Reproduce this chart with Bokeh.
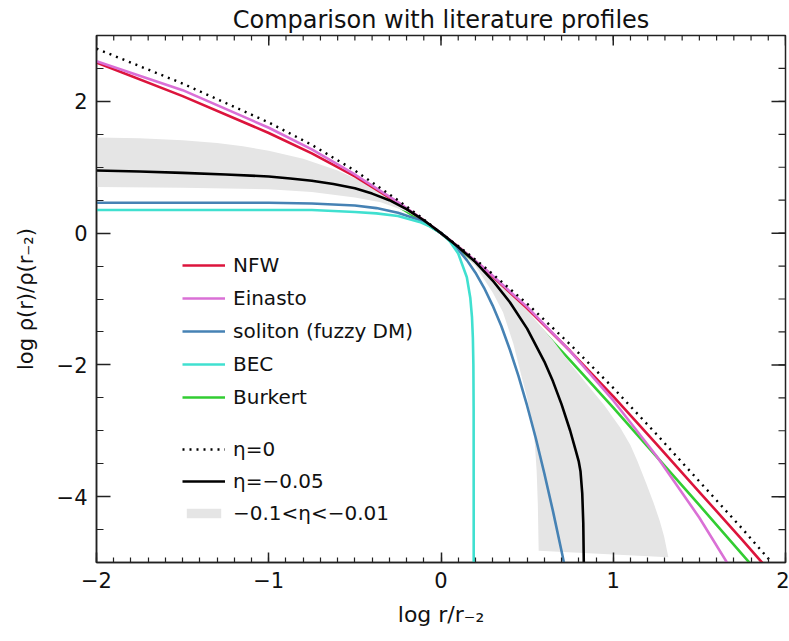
import math
from bokeh.plotting import figure
from bokeh.models import FixedTicker, Range1d, Legend, LegendItem
from bokeh.embed import file_html
from bokeh.resources import INLINE

# ---------------- data ----------------
# log r / r_-2 sample points and log rho/rho(r_-2) values
nfw_x = [-2, -1.5, -1, -0.75, -0.5, -0.25, -0.125, 0, 0.125, 0.25, 0.5, 0.75, 1, 1.25, 1.5, 1.75, 1.9]
nfw_y = [2.59, 2.08, 1.52, 1.21, 0.86, 0.46, 0.24, 0.0, -0.26, -0.54, -1.14, -1.79, -2.48, -3.20, -3.93, -4.66, -5.11]

einasto_x = [-2, -1.5, -1, -0.75, -0.5, -0.25, -0.125, 0, 0.125, 0.25, 0.5, 0.75, 1, 1.25, 1.5, 1.75]
einasto_y = [2.61, 2.17, 1.60, 1.27, 0.89, 0.47, 0.24, 0.0, -0.26, -0.53, -1.12, -1.79, -2.54, -3.38, -4.32, -5.38]

soliton_x = [-2, -1.5, -1, -0.75, -0.5, -0.375, -0.25, -0.125, -0.0625, 0, 0.025, 0.05, 0.1, 0.15,
             0.2, 0.25, 0.3, 0.35, 0.4, 0.45, 0.5, 0.55, 0.6, 0.65, 0.7, 0.73]
soliton_y = [0.46, 0.46, 0.46, 0.45, 0.42, 0.38, 0.31, 0.20, 0.11, 0.0, -0.05, -0.11, -0.25, -0.41,
             -0.60, -0.83, -1.10, -1.41, -1.77, -2.17, -2.62, -3.11, -3.65, -4.22, -4.83, -5.21]

bec_x = [-2, -1.5, -1, -0.75, -0.5, -0.375, -0.25, -0.125, -0.0625, 0, 0.025, 0.05, 0.1, 0.15,
         0.17, 0.18, 0.185, 0.188, 0.1895, 0.19]
bec_y = [0.35, 0.35, 0.35, 0.35, 0.32, 0.30, 0.26, 0.17, 0.10, 0.0, -0.06, -0.12, -0.31, -0.67,
         -0.98, -1.28, -1.59, -2.00, -2.68, -5.30]

burkert_x = [-2, -1.5, -1, -0.75, -0.5, -0.25, 0, 0.25, 0.5, 0.75, 1, 1.25, 1.5, 1.75, 1.85]
burkert_y = [0.91, 0.90, 0.85, 0.79, 0.66, 0.41, 0.0, -0.57, -1.23, -1.93, -2.65, -3.39, -4.13, -4.88, -5.18]

eta0_x = [-2, -1.5, -1, -0.75, -0.5, -0.25, -0.125, 0, 0.125, 0.25, 0.5, 0.75, 1, 1.25, 1.5, 1.75, 1.95]
eta0_y = [2.80, 2.27, 1.68, 1.34, 0.95, 0.50, 0.26, 0.0, -0.245, -0.51, -1.07, -1.69, -2.35, -3.05, -3.77, -4.49, -5.09]

eta005_x = [-2, -1.75, -1.5, -1.25, -1, -0.875, -0.75, -0.625, -0.5, -0.4, -0.3, -0.2, -0.1, 0,
            0.1, 0.2, 0.3, 0.4, 0.5, 0.6, 0.65, 0.7, 0.75, 0.78, 0.8, 0.81, 0.82, 0.826, 0.83]
eta005_y = [0.95, 0.935, 0.915, 0.89, 0.86, 0.83, 0.795, 0.745, 0.68, 0.60, 0.50, 0.365, 0.195, 0.0,
            -0.21, -0.44, -0.72, -1.05, -1.45, -1.95, -2.25, -2.60, -3.00, -3.28, -3.47, -3.62, -3.95, -4.40, -5.20]

# band edges: eta = -0.01 (outer) and eta = -0.1 (inner)
band_hi_x = [-2, -1.75, -1.5, -1.3, -1.15, -1, -0.8, -0.6, -0.43, -0.3, -0.15, 0, 0.15, 0.3, 0.5, 0.65,
             0.75, 0.85, 0.95, 1.04, 1.1, 1.14, 1.19, 1.235, 1.27, 1.295, 1.32]
band_hi_y = [1.45, 1.44, 1.41, 1.37, 1.32, 1.25, 1.13, 0.95, 0.75, 0.54, 0.28, 0.0, -0.32, -0.66, -1.17, -1.63,
             -1.98, -2.30, -2.62, -2.95, -3.22, -3.46, -3.79, -4.10, -4.37, -4.60, -4.92]
band_lo_x = [-2, -1.5, -1, -0.75, -0.5, -0.35, -0.2, -0.1, 0, 0.1, 0.2, 0.3, 0.36, 0.42, 0.47, 0.5,
             0.53, 0.545, 0.555, 0.562, 0.567]
band_lo_y = [0.70, 0.69, 0.665, 0.625, 0.54, 0.47, 0.33, 0.18, 0.0, -0.22, -0.50, -0.90, -1.20, -1.68, -2.20, -2.50,
             -2.90, -3.20, -3.60, -4.10, -4.82]

x_major = [-2, -1, 0, 1, 2]
x_labels = {-2: "\u22122", -1: "\u22121", 0: "0", 1: "1", 2: "2"}
y_major = [-4, -2, 0, 2]
y_labels = {-4: "\u22124", -2: "\u22122", 0: "0", 2: "2"}
x_minor = [round(-2 + 0.1 * i, 2) for i in range(41)]
y_minor = [round(-5 + 0.5 * i, 2) for i in range(17)]

X_LO, X_HI, Y_LO, Y_HI = -2, 2, -5, 3
FONT = "DejaVu Sans"
AX = "#222222"

p = figure(width=789, height=641, x_range=Range1d(X_LO, X_HI), y_range=Range1d(Y_LO, Y_HI),
           output_backend="svg", toolbar_location=None,
           min_border_left=96, min_border_right=4, min_border_top=35, min_border_bottom=79)
p.xgrid.visible = False
p.ygrid.visible = False
p.outline_line_color = AX
p.outline_line_width = 1.5
p.background_fill_color = "white"
p.border_fill_color = "white"

p.title.text = "Comparison with literature profiles"
p.title.align = "center"
p.title.text_font = FONT
p.title.text_font_size = "24px"
p.title.text_font_style = "normal"
p.title.text_color = "#111111"
p.title.standoff = 3

xt = FixedTicker(ticks=x_major, minor_ticks=x_minor)
yt = FixedTicker(ticks=y_major, minor_ticks=y_minor)


def style(ax, major_in, minor_in):
    ax.major_tick_in = major_in
    ax.major_tick_out = 0
    ax.minor_tick_in = minor_in
    ax.minor_tick_out = 0
    ax.axis_line_color = AX
    ax.axis_line_width = 1.5
    ax.major_tick_line_color = AX
    ax.major_tick_line_width = 1.5
    ax.minor_tick_line_color = AX
    ax.minor_tick_line_width = 1.2


bx = p.xaxis[0]
bx.ticker = xt
style(bx, 10, 5)
bx.major_label_overrides = x_labels
bx.major_label_text_font = FONT
bx.major_label_text_font_size = "21px"
bx.major_label_text_color = "#111111"
bx.major_label_standoff = 9
bx.axis_label = "log r/r\u208b\u2082"
bx.axis_label_text_font = FONT
bx.axis_label_text_font_size = "22px"
bx.axis_label_text_font_style = "normal"
bx.axis_label_text_color = "#111111"
bx.axis_label_standoff = 11

ly = p.yaxis[0]
ly.ticker = yt
style(ly, 14, 7)
ly.major_label_overrides = y_labels
ly.major_label_text_font = FONT
ly.major_label_text_font_size = "21px"
ly.major_label_text_color = "#111111"
ly.major_label_standoff = 9
ly.axis_label = "log \u03c1(r)/\u03c1(r\u208b\u2082)"
ly.axis_label_text_font = FONT
ly.axis_label_text_font_size = "21px"
ly.axis_label_text_font_style = "normal"
ly.axis_label_text_color = "#111111"
ly.axis_label_standoff = 16

# inward ticks on the top and right frame edges (dash markers half clipped by the frame)
p.scatter(x_major, [Y_HI] * len(x_major), marker="dash", angle=math.pi / 2, size=20,
          line_color=AX, line_width=1.5)
p.scatter(x_minor, [Y_HI] * len(x_minor), marker="dash", angle=math.pi / 2, size=10,
          line_color=AX, line_width=1.2)
p.scatter([X_HI] * len(y_major), y_major, marker="dash", size=28, line_color=AX, line_width=1.5)
p.scatter([X_HI] * len(y_minor), y_minor, marker="dash", size=14, line_color=AX, line_width=1.2)

# draw order: Burkert under the band, everything else on top
r_bur = p.line(burkert_x, burkert_y, line_color="#32cd32", line_width=2.6)
r_band = p.patch(band_hi_x + band_lo_x[::-1], band_hi_y + band_lo_y[::-1],
                 fill_color="#e5e5e5", line_color=None)
r_nfw = p.line(nfw_x, nfw_y, line_color="#dc143c", line_width=2.6)
r_ein = p.line(einasto_x, einasto_y, line_color="#da70d6", line_width=2.6)
r_sol = p.line(soliton_x, soliton_y, line_color="#4682b4", line_width=2.6)
r_bec = p.line(bec_x, bec_y, line_color="#40e0d0", line_width=2.6)
r_e05 = p.line(eta005_x, eta005_y, line_color="black", line_width=2.6)
r_e0 = p.line(eta0_x, eta0_y, line_color="black", line_width=2.4, line_dash="2 5")

common = dict(glyph_width=43, glyph_height=12, label_height=24, label_standoff=8,
              padding=0, margin=0, border_line_alpha=0, background_fill_alpha=0,
              label_text_font=FONT, label_text_font_size="20px", label_text_color="#111111")

leg1 = Legend(items=[LegendItem(label="NFW", renderers=[r_nfw]),
                     LegendItem(label="Einasto", renderers=[r_ein]),
                     LegendItem(label="soliton (fuzzy DM)", renderers=[r_sol]),
                     LegendItem(label="BEC", renderers=[r_bec]),
                     LegendItem(label="Burkert", renderers=[r_bur])],
              location=(86, 153), spacing=9, **common)
leg2 = Legend(items=[LegendItem(label="\u03b7=0", renderers=[r_e0]),
                     LegendItem(label="\u03b7=\u22120.05", renderers=[r_e05]),
                     LegendItem(label="\u22120.1<\u03b7<\u22120.01", renderers=[r_band])],
              location=(86, 37), spacing=8, **common)
p.add_layout(leg1)
p.add_layout(leg2)

open("out.html", "w").write(file_html(p, INLINE))
